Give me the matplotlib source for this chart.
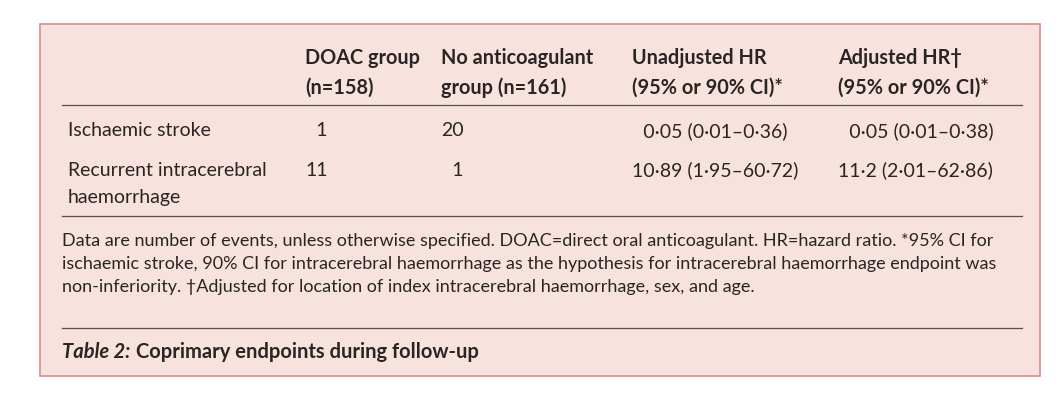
import matplotlib
matplotlib.use('Agg')
import matplotlib.pyplot as plt
from matplotlib.patches import Rectangle

headers = [("DOAC group", "(n=158)"), ("No anticoagulant", "group (n=161)"),
           ("Unadjusted HR", "(95% or 90% CI)*"), ("Adjusted HR†", "(95% or 90% CI)*")]
row_labels = [["Ischaemic stroke"], ["Recurrent intracerebral", "haemorrhage"]]
doac = ["\u20071", "11"]
no_anticoag = ["20", "\u20071"]
unadj_hr = ["\u20070·05 (0·01–0·36)", "10·89 (1·95–60·72)"]
adj_hr = ["\u20070·05 (0·01–0·38)", "11·2 (2·01–62·86)"]
footnote = ["Data are number of events, unless otherwise specified. DOAC=direct oral anticoagulant. HR=hazard ratio. *95% CI for",
            "ischaemic stroke, 90% CI for intracerebral haemorrhage as the hypothesis for intracerebral haemorrhage endpoint was",
            "non-inferiority. †Adjusted for location of index intracerebral haemorrhage, sex, and age."]

plt.rcParams['font.family'] = 'Lato'
fig = plt.figure(figsize=(10.62, 4.16), dpi=100)
ax = fig.add_axes([0, 0, 1, 1])
ax.set_xlim(0, 1062)
ax.set_ylim(416, 0)
ax.axis('off')

txt = '#2b2424'
ax.add_patch(Rectangle((40, 24), 1000, 352, facecolor='#f7e2de', edgecolor='#d98d8d', lw=1.2))

cols = [305, 441, 632, 838]
for x, (a, b) in zip(cols, headers):
    ax.text(x, 58, a, fontsize=14.3, fontweight='bold', color=txt, va='center')
    ax.text(x, 88, b, fontsize=14.3, fontweight='bold', color=txt, va='center')
for y in (105, 216, 328):
    ax.plot([62, 1022], [y, y], color='#555050', lw=0.9)

row_y = [131, 170]
for i, y in enumerate(row_y):
    for j, line in enumerate(row_labels[i]):
        ax.text(68, y + 28 * j, line, fontsize=14, color=txt, va='center')
    for x, vals in zip(cols, [doac, no_anticoag, unadj_hr, adj_hr]):
        ax.text(x, y, vals[i], fontsize=14, color=txt, va='center')

for k, line in enumerate(footnote):
    ax.text(62, 241 + 23 * k, line, fontsize=13, color=txt, va='center')

ax.text(62, 352, "Table 2:", fontsize=14.5, fontweight='bold', fontstyle='italic', color=txt, va='center')
ax.text(136, 352, "Coprimary endpoints during follow-up", fontsize=14.5, fontweight='bold', color=txt, va='center')

fig.savefig('out.png', dpi=100, facecolor='white')
